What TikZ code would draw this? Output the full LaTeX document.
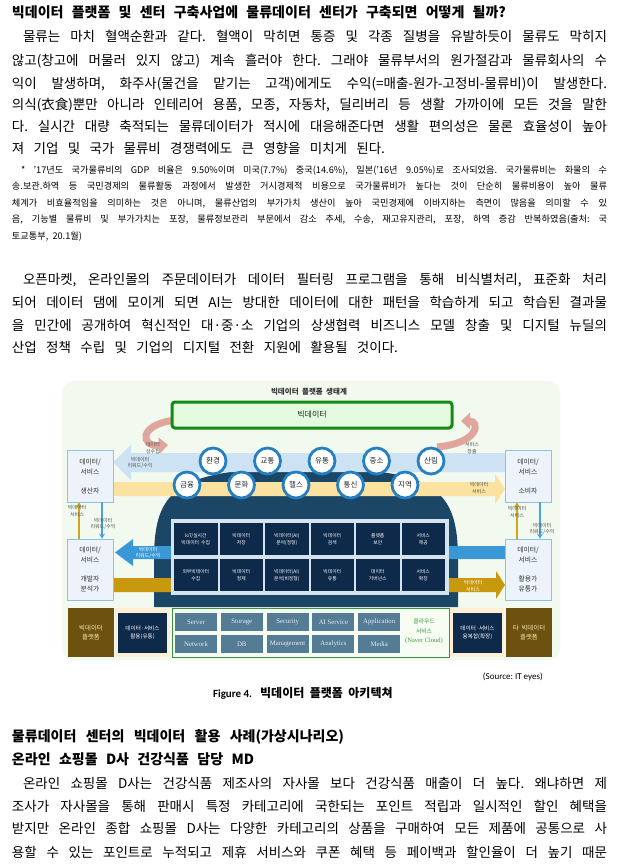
\documentclass[tikz,border=0pt]{standalone}
\usepackage{fontspec}
\setmainfont[WordSpace=2]{Noto Sans CJK KR}
\newfontfamily\serifa{Liberation Serif}
\newfontfamily\calib{Carlito}
\usetikzlibrary{arrows.meta}
\frenchspacing
\definecolor{figbg}{HTML}{F2F9EE}
\definecolor{gbfill}{HTML}{E4FADF}
\definecolor{gbdraw}{HTML}{128C12}
\definecolor{pinkarr}{HTML}{E0A69C}
\definecolor{lband}{HTML}{CDE3F3}
\definecolor{yband}{HTML}{FCE2A0}
\definecolor{domec}{HTML}{1C4665}
\definecolor{circc}{HTML}{2480C0}
\definecolor{framec}{HTML}{D3E3F0}
\definecolor{navyc}{HTML}{0E2A4B}
\definecolor{mband}{HTML}{3B98D6}
\definecolor{gband}{HTML}{C8980E}
\definecolor{sidefill}{HTML}{EDF3FB}
\definecolor{sidedraw}{HTML}{8EC1E6}
\definecolor{brownc}{HTML}{6D520F}
\definecolor{browntext}{HTML}{F4E6B2}
\definecolor{creamc}{HTML}{FCEFD5}
\definecolor{cloudfill}{HTML}{F7FCF3}
\definecolor{clouddraw}{HTML}{3C9140}
\definecolor{grayc}{HTML}{557C95}
\definecolor{graytext}{HTML}{E3ECF2}
\definecolor{cloudtext}{HTML}{3F9A3F}
\definecolor{labg}{HTML}{505050}
\definecolor{goldln}{HTML}{D4A318}
\definecolor{blueln}{HTML}{4AA3E0}
\definecolor{sidetext}{HTML}{333333}
\newcommand{\fsz}[2]{\fontsize{#1}{#2}\selectfont}
\begin{document}
\begin{tikzpicture}[x=1pt,y=-1pt,
  txt/.style={anchor=base west,inner sep=0pt,outer sep=0pt},
  body/.style={txt,font=\fsz{13.5}{16}},
  fnote/.style={txt,font=\fsz{9.2}{11}},
  hd/.style={txt,font=\fsz{14}{16}\bfseries},
  lab/.style={inner sep=0pt,align=center,font=\fsz{5}{6.5},text=labg},
  wlab/.style={lab,text=white},
  side/.style={draw=sidedraw,line width=0.8pt,fill=sidefill,minimum width=46pt,inner sep=0pt,align=center,font=\fsz{6.8}{10},text=sidetext},
  circb/.style={circle,draw=circc,line width=2.8pt,fill=white,minimum size=26pt,inner sep=0pt,font=\fsz{7.5}{8},text=black!85},
  navyb/.style={fill=navyc,minimum width=43.5pt,minimum height=32pt,inner sep=0pt,align=center,text=white,font=\fsz{4.8}{7}},
  grayb/.style={fill=grayc,minimum width=42pt,minimum height=18pt,inner sep=0pt,text=graytext,font=\serifa\fsz{6.8}{8}},
  brownb/.style={fill=brownc,minimum width=46pt,minimum height=49pt,inner sep=0pt,align=center,text=browntext,font=\fsz{6.4}{9}},
  creamb/.style={fill=creamc,minimum height=49pt,inner sep=0pt},
  navysm/.style={fill=navyc,minimum width=49pt,minimum height=40pt,inner sep=0pt,align=center,text=white,font=\fsz{5.6}{8}},
  vline/.style={line width=1.8pt,-{Stealth[length=5pt,width=6pt]}},
  pinka/.style={pinkarr,line width=7pt,-{Triangle[length=9pt,width=16pt]}}
]
\path[use as bounding box,fill=white] (0,0) rectangle (619,866);

% ---------- title and paragraph 1 ----------
\node[hd] (ttl) at (12,18) {\makebox[494pt][s]{빅데이터 플랫폼 및 센터 구축사업에 물류데이터 센터가 구축되면 어떻게 될까?}};
\node[body] (b1) at (23,42) {\makebox[584pt][s]{물류는 마치 혈액순환과 같다. 혈액이 막히면 통증 및 각종 질병을 유발하듯이 물류도 막히지}};
\node[body] (b2) at (12,66) {\makebox[595pt][s]{않고(창고에 머물러 있지 않고) 계속 흘러야 한다. 그래야 물류부서의 원가절감과 물류회사의 수}};
\node[body] (b3) at (12,89) {\makebox[595pt][s]{익이 발생하며, 화주사(물건을 맡기는 고객)에게도 수익(=매출-원가-고정비-물류비)이 발생한다.}};
\node[body] (b4) at (12,110) {\makebox[595pt][s]{의식(衣食)뿐만 아니라 인테리어 용품, 모종, 자동차, 딜리버리 등 생활 가까이에 모든 것을 말한}};
\node[body] (b5) at (12,132) {\makebox[595pt][s]{다. 실시간 대량 축적되는 물류데이터가 적시에 대응해준다면 생활 편의성은 물론 효율성이 높아}};
\node[body] (b6) at (12,154) {\makebox[373pt][s]{져 기업 및 국가 물류비 경쟁력에도 큰 영향을 미치게 된다.}};

% ---------- footnote ----------
\node[fnote] (f1) at (21,173.3) {\makebox[586pt][s]{* '17년도 국가물류비의 GDP 비율은 9.50\%이며 미국(7.7\%) 중국(14.6\%), 일본('16년 9.05\%)로 조사되었음. 국가물류비는 화물의 수}};
\node[fnote] (f2) at (12,189.8) {\makebox[595pt][s]{송.보관.하역 등 국민경제의 물류활동 과정에서 발생한 거시경제적 비용으로 국가물류비가 높다는 것이 단순히 물류비용이 높아 물류}};
\node[fnote] (f3) at (12,206.3) {\makebox[595pt][s]{체계가 비효율적임을 의미하는 것은 아니며, 물류산업의 부가가치 생산이 높아 국민경제에 이바지하는 측면이 많음을 의미할 수 있}};
\node[fnote] (f4) at (12,222.8) {\makebox[595pt][s]{음, 기능별 물류비 및 부가가치는 포장, 물류정보관리 부문에서 감소 추세, 수송, 재고유지관리, 포장, 하역 증감 반복하였음(출처: 국}};
\node[fnote] (f5) at (12,239.3) {토교통부, 20.1월)};

% ---------- paragraph 2 ----------
\node[body] (p1) at (23,284) {\makebox[584pt][s]{오픈마켓, 온라인몰의 주문데이터가 데이터 필터링 프로그램을 통해 비식별처리, 표준화 처리}};
\node[body] (p2) at (12,307) {\makebox[595pt][s]{되어 데이터 댐에 모이게 되면 AI는 방대한 데이터에 대한 패턴을 학습하게 되고 학습된 결과물}};
\node[body] (p3) at (12,330) {\makebox[595pt][s]{을 민간에 공개하여 혁신적인 대·중·소 기업의 상생협력 비즈니스 모델 창출 및 디지털 뉴딜의}};
\node[body] (p4) at (12,352) {\makebox[386pt][s]{산업 정책 수립 및 기업의 디지털 전환 지원에 활용될 것이다.}};

% ---------- figure ----------
\fill[figbg,rounded corners=12pt] (62,381) rectangle (560,660);
\node[inner sep=0pt,font=\fsz{7.5}{8}\bfseries,text=black!80] (ftitle) at (309,392) {빅데이터 플랫폼 생태계};

% pink curved arrows
\coordinate (pkls) at (176,420);
\coordinate (pkle) at (168,445);
\coordinate (pkrs) at (437,447);
\coordinate (pkre) at (461,421);
\draw[pinka] (pkls) .. controls (138,424) and (140,447) .. (pkle);
\draw[pinka] (pkrs) .. controls (480,443) and (480,421) .. (pkre);

% big data box
\node[draw=gbdraw,line width=3pt,fill=gbfill,rounded corners=3pt,minimum width=280pt,minimum height=26pt,inner sep=0pt,font=\fsz{8}{9},text=black!85] (bd) at (312,415) {빅데이터};

% dome
\fill[domec] (154,607) -- (154,560) .. controls (154,490) and (175,468) .. (306,468) .. controls (437,468) and (458,490) .. (458,560) -- (458,607) -- cycle;

% bands
\fill[lband] (505,453) -- (131,453) -- (131,445) -- (113,462.5) -- (131,480) -- (131,472) -- (505,472) -- cycle;
\fill[yband] (113,482) -- (495,482) -- (495,474) -- (505,489) -- (495,504) -- (495,496) -- (113,496) -- cycle;
\fill[mband] (505,546) -- (133,546) -- (133,539) -- (115,552.5) -- (133,566) -- (133,559) -- (505,559) -- cycle;
\fill[gband] (114,578) -- (496,578) -- (496,571) -- (505,585) -- (496,599) -- (496,592) -- (114,592) -- cycle;

% circles
\foreach \t [count=\i from 0] in {환경,교통,유통,중소,산림}
  \node[circb] (ct\i) at (213+54.5*\i,461) {\t};
\foreach \t [count=\i from 0] in {금융,문화,헬스,통신,지역}
  \node[circb] (cb\i) at (187+54.5*\i,485) {\t};

% inner frame and function boxes
\node[fill=framec,minimum width=278pt,minimum height=76pt,inner sep=0pt] (frame) at (310,557) {};
\foreach \t [count=\i from 0] in {{IoT/실시간\\빅데이터 수집},{빅데이터\\저장},{빅데이터(AI)\\분석(정형)},{빅데이터\\검색},{플랫폼\\보안},{서비스\\제공}}
  \node[navyb] (ga\i) at (195.75+45.5*\i,539) {\t};
\foreach \t [count=\i from 0] in {{외부빅데이터\\수집},{빅데이터\\정제},{빅데이터(AI)\\분석(비정형)},{빅데이터\\유통},{데이터\\거버넌스},{서비스\\확장}}
  \node[navyb] (gb\i) at (195.75+45.5*\i,575) {\t};

% side boxes
\node[side,minimum height=52pt] (lb1) at (90,476) {데이터/\\서비스\\[9pt]생산자};
\node[side,minimum height=61pt] (lb2) at (90,569.5) {데이터/\\서비스\\[9pt]개발자\\분석가};
\node[side,minimum height=52pt] (rb1) at (528,476) {데이터/\\서비스\\[9pt]소비자};
\node[side,minimum height=61pt] (rb2) at (528,569.5) {데이터/\\서비스\\[9pt]활용가\\유통가};

% vertical connectors
\coordinate (lgx) at (79,0);
\coordinate (lbx) at (102,0);
\coordinate (rgx) at (517,0);
\coordinate (rbx) at (540,0);
\draw[vline,goldln] (lb2.north -| lgx) -- (lb1.south -| lgx);
\draw[vline,blueln] (lb1.south -| lbx) -- (lb2.north -| lbx);
\draw[vline,goldln] (rb2.north -| rgx) -- (rb1.south -| rgx);
\draw[vline,blueln] (rb1.south -| rbx) -- (rb2.north -| rbx);

% labels
\node[lab] (l1) at (153,448) {데이터\\상수집};
\node[lab] (l2) at (140,463) {빅데이터\\리워드/수익};
\node[lab] (l3) at (472,448) {서비스\\창출};
\node[lab] (l4) at (479,488) {빅데이터\\서비스};
\node[wlab] (l5) at (148,553) {빅데이터\\리워드/수익};
\node[wlab] (l6) at (473,586) {빅데이터\\서비스};
\node[lab] (l7) at (77,511) {빅데이터\\서비스};
\node[lab] (l8) at (103,524) {빅데이터\\리워드/수익};
\node[lab] (l9) at (517,512) {빅데이터\\서비스};
\node[lab] (l10) at (542,529) {빅데이터\\리워드/수익};

% bottom row
\node[brownb] (lbp) at (91,632.5) {빅데이터\\플랫폼};
\node[creamb,minimum width=55pt] (lcr) at (142.5,632.5) {};
\node[navysm] (lnv) at (142.5,633) {데이터·서비스\\활용(유통)};
\node[draw=clouddraw,line width=1pt,fill=cloudfill,minimum width=277pt,minimum height=49pt,inner sep=0pt] (cloud) at (310.5,632.5) {};
\foreach \t [count=\i from 0] in {Server,Storage,Security,AI Service,Application}
  \node[grayb] (sa\i) at (196+45.8*\i,622) {\t};
\foreach \t [count=\i from 0] in {Network,DB,Management,Analytics,Media}
  \node[grayb] (sb\i) at (196+45.8*\i,644) {\t};
\node[inner sep=0pt,align=center,text=cloudtext,font=\fsz{5.8}{9.3}] (cltx) at (424,631.5) {클라우드\\서비스\\{\serifa\fsz{6.5}{9.3}(Naver Cloud)}};
\node[creamb,minimum width=54pt] (rcr) at (477,632.5) {};
\node[navysm] (rnv) at (477.5,633) {데이터·서비스\\융복합(확장)};
\node[brownb] (rbp) at (529,632.5) {타 빅데이터\\플랫폼};

% ---------- caption ----------
\node[anchor=base east,inner sep=0pt,font=\calib\fsz{9}{10}] (src) at (543,679) {(Source: IT eyes)};
\node[txt] (cap) at (213,697) {{\calib\bfseries\fsz{11}{12}Figure 4.}\hspace{8pt}{\bfseries\fsz{12}{13}빅데이터 플랫폼 아키텍쳐}};

% ---------- section ----------
\node[hd] (h1) at (12,741) {\makebox[332pt][s]{물류데이터 센터의 빅데이터 활용 사례(가상시나리오)}};
\node[hd] (h2) at (12,764) {\makebox[242pt][s]{온라인 쇼핑몰 D사 건강식품 담당 MD}};
\node[body] (q1) at (23,788) {\makebox[584pt][s]{온라인 쇼핑몰 D사는 건강식품 제조사의 자사몰 보다 건강식품 매출이 더 높다. 왜냐하면 제}};
\node[body] (q2) at (12,811) {\makebox[595pt][s]{조사가 자사몰을 통해 판매시 특정 카테고리에 국한되는 포인트 적립과 일시적인 할인 혜택을}};
\node[body] (q3) at (12,833) {\makebox[595pt][s]{받지만 온라인 종합 쇼핑몰 D사는 다양한 카테고리의 상품을 구매하여 모든 제품에 공통으로 사}};
\node[body] (q4) at (12,857) {\makebox[595pt][s]{용할 수 있는 포인트로 누적되고 제휴 서비스와 쿠폰 혜택 등 페이백과 할인율이 더 높기 때문}};
\end{tikzpicture}
\end{document}
